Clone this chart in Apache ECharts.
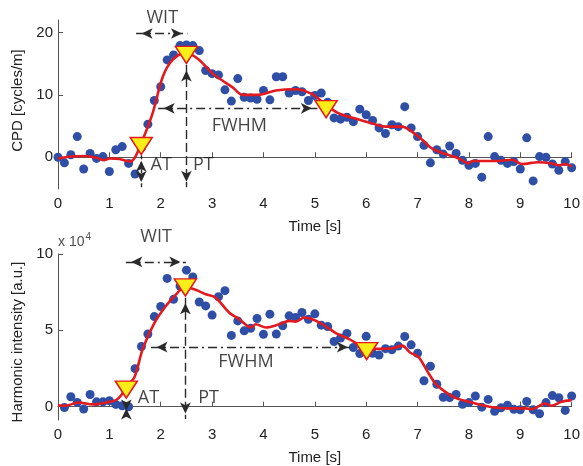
<!DOCTYPE html>
<html>
<head>
<meta charset="utf-8">
<script src="https://cdn.jsdelivr.net/npm/echarts@6/dist/echarts.min.js"></script>
<style>html,body{margin:0;padding:0;background:#fff}#c{width:583px;height:466px}</style>
</head>
<body>
<div id="c"></div>
<script>
// ---------- data ----------
const xTicks = [0,1,2,3,4,5,6,7,8,9,10];
const cpdTicks = [0,10,20];
const harmTicks = [0,5,10];

const cpdTime = [0,0.125,0.25,0.375,0.5,0.625,0.75,0.875,1,1.125,1.25,1.375,1.5,1.625,1.75,1.875,2,2.125,2.25,2.375,2.5,2.625,2.75,2.875,3,3.125,3.25,3.375,3.5,3.625,3.75,3.875,4,4.125,4.25,4.375,4.5,4.625,4.75,4.875,5,5.125,5.25,5.375,5.5,5.625,5.75,5.875,6,6.125,6.25,6.375,6.5,6.625,6.75,6.875,7,7.125,7.25,7.375,7.5,7.625,7.75,7.875,8,8.125,8.25,8.375,8.5,8.625,8.75,8.875,9,9.125,9.25,9.375,9.5,9.625,9.75,9.875,10];
const cpdValue = [0,-0.9,0.4,3.3,-1.9,0.6,-0.2,0.1,-2.3,1.2,1.7,-1.0,-2.7,1.5,5.3,9.1,11.3,15.6,16.4,17.9,18.0,17.9,17.1,13.9,13.4,13.2,10.8,9.0,12.6,9.6,9.5,9.3,10.7,9.2,12.9,12.9,10.3,10.7,10.5,9.1,9.9,10.3,8.8,6.3,6.1,6.4,5.7,7.7,6.8,5.9,4.7,3.8,5.2,4.9,8.1,4.7,3.3,1.9,-0.9,1.2,0.5,1.8,0.6,-0.5,-1.3,-1.0,-3.2,3.3,0.1,-0.5,-1.0,-0.7,-1.9,3.1,-3.8,0.1,0.0,-1.1,-2.1,-0.7,-1.7];

const cpdFitTime = [0,0.25,0.5,0.75,0.9,1.0,1.2,1.4,1.5,1.62,1.84,2.04,2.23,2.49,2.75,3.01,3.2,3.4,3.59,3.9,4.24,4.63,4.95,5.21,5.47,5.79,6.12,6.38,6.7,6.89,7.09,7.28,7.54,7.8,8.0,8.06,8.32,8.58,8.84,9.03,9.35,9.61,9.74,9.87,10];
const cpdFitValue = [-0.2,0.1,0.2,-0.1,-0.5,-0.2,-0.3,-0.7,0.0,2.2,7.0,12.9,15.6,16.8,15.6,13.4,12.3,11.2,10.0,10.0,10.7,10.9,10.1,8.4,7.0,6.2,5.4,4.9,4.9,4.1,2.8,1.4,0.5,-0.2,-1.0,-0.6,-0.6,-0.6,-0.4,-1.1,-0.8,-1.0,-1.3,-1.1,-1.5];

const cpdMarkerTime = [1.62,2.5,5.22];
const cpdMarkerValue = [1.8,16.4,7.7];

const harmTime = [0.125,0.25,0.375,0.5,0.625,0.75,0.875,1,1.125,1.25,1.375,1.5,1.625,1.75,1.875,2,2.125,2.25,2.375,2.5,2.625,2.75,2.875,3,3.125,3.25,3.375,3.5,3.625,3.75,3.875,4,4.125,4.25,4.375,4.5,4.625,4.75,4.875,5,5.125,5.25,5.375,5.5,5.625,5.75,5.875,6,6.125,6.25,6.375,6.5,6.625,6.75,6.875,7,7.125,7.25,7.375,7.5,7.625,7.75,7.875,8,8.125,8.25,8.375,8.5,8.625,8.75,8.875,9,9.125,9.25,9.375,9.5,9.625,9.75,9.875,10];
const harmValue = [-0.05,0.65,0.28,-0.15,0.8,0.32,0.32,0.39,0.15,0.06,0.0,2.49,3.94,4.76,5.9,6.56,8.4,7.03,7.9,8.94,8.5,6.86,6.6,6.0,7.2,7.6,4.67,5.62,4.97,5.13,5.78,4.74,6.06,4.76,5.3,5.95,5.84,6.17,5.73,6.08,5.34,5.25,4.27,4.5,4.8,3.88,3.48,4.61,3.5,3.38,3.8,3.73,3.97,4.6,4.05,3.5,1.7,2.65,1.47,0.62,0.6,0.8,0.16,0.27,0.7,-0.03,0.48,-0.3,-0.07,0.1,-0.17,-0.2,0.34,-0.2,-0.46,0.27,0.73,0.59,-0.24,0.7];

const harmFitTime = [0,0.14,0.4,0.68,0.94,1.13,1.23,1.33,1.49,1.65,1.88,2.1,2.3,2.47,2.69,2.88,3.07,3.33,3.53,3.76,3.85,4.05,4.31,4.5,4.62,4.8,4.95,5.15,5.41,5.67,6.0,6.25,6.51,6.7,6.86,7.02,7.18,7.35,7.54,7.74,8.0,8.26,8.51,8.84,9.1,9.22,9.48,9.61,9.8,10];
const harmFitValue = [0.1,0.06,0.28,0.15,0.28,0.43,0.75,1.3,1.95,3.79,5.5,6.6,7.36,7.86,7.64,7.36,7.14,6.17,5.73,5.19,5.4,5.19,5.4,5.62,5.56,5.84,5.73,5.4,4.82,4.43,3.83,3.79,3.83,4.0,3.53,3.25,2.38,1.51,0.97,0.58,0.32,0.1,-0.05,-0.11,-0.11,-0.16,0.21,0.06,0.32,0.43];

const harmMarkerTime = [1.33,2.48,6.01];
const harmMarkerValue = [1.12,7.81,3.64];

// annotation texts and their anchor points (data coordinates)
const cpdLabelText = ['WIT','FWHM','AT','PT'];
const cpdLabelTime = [2.03,3.53,2.01,2.83];
const cpdLabelValue = [22.4,5.0,-1.25,-1.25];
const harmLabelText = ['WIT','FWHM','AT','PT'];
const harmLabelTime = [1.91,3.66,1.76,2.93];
const harmLabelValue = [11.1,2.92,0.58,0.58];

// arrows: [t1, v1, t2, v2]
const cpdArrowWIT = [1.52,19.84,2.52,19.84];
const cpdArrowAT = [1.62,0.3,1.62,-4.85];
const cpdArrowPT = [2.5,14.8,2.5,-4.8];
const cpdArrowFWHM = [1.95,7.84,5.05,7.84];
const harmArrowWIT = [1.32,9.48,2.49,9.48];
const harmArrowAT = [1.33,0.25,1.33,-0.6];
const harmArrowPT = [2.48,7.14,2.48,-0.8];
const harmArrowFWHM = [1.81,3.9,5.75,3.9];

// ---------- chart ----------
const zip = (a,b) => a.map((x,i)=>[x,b[i]]);
const BLUE = '#2f4fa6', RED = '#e2191e', AX = '#555', TXT = '#222';
const tickFont = {fontFamily:'Liberation Sans', fontSize:15, color:TXT};
const annFont = 'Open Sans';

function xAxis(gi){
  return {type:'value', gridIndex:gi, min:0, max:10, interval:1,
    name:'Time [s]', nameLocation:'middle', nameGap:30,
    nameTextStyle:{fontFamily:'Liberation Sans', fontSize:15, color:TXT},
    axisLine:{lineStyle:{color:AX, width:1}},
    axisTick:{inside:true, length:5, lineStyle:{color:AX}},
    axisLabel:Object.assign({margin:7}, tickFont),
    splitLine:{show:false}};
}
function yAxis(gi,min,max,ticks,name,pad){
  return {type:'value', gridIndex:gi, min:min, max:max,
    name:name, nameLocation:'middle', nameGap:31,
    nameTextStyle:{fontFamily:'Liberation Sans', fontSize:15, color:TXT, padding:pad},
    axisLine:{show:true, lineStyle:{color:AX, width:1}},
    axisTick:{show:true, inside:true, length:5, lineStyle:{color:AX}, customValues:ticks},
    axisLabel:Object.assign({margin:5, customValues:ticks}, tickFont),
    splitLine:{show:false}};
}
function arrow(a, type){
  return [{coord:[a[0],a[1]], lineStyle:{type:type}}, {coord:[a[2],a[3]]}];
}
const DASHDOT = [9,4,2,4], DASH = [9,4], SHORTDASH=[4,3];

function arrowSeries(gi, arrows){
  return {type:'line', xAxisIndex:gi, yAxisIndex:gi, data:[], silent:true, z:6,
    markLine:{silent:true, symbol:['arrow','arrow'], symbolSize:[8,11],
      symbolOffset:[[0,5.5],[0,5.5]], animation:false,
      lineStyle:{color:'#2a2a2a', width:1.4, opacity:1},
      label:{show:false}, emphasis:{disabled:true},
      data: arrows.map(a=>{const d=arrow(a[0],a[1]); d[0].lineStyle={type:a[1], color:'#2a2a2a', width:1.4}; return d;})}};
}
function labelSeries(gi, texts, ts, vs){
  const d = texts.map((t,i)=>({name:t, value:[ts[i],vs[i]]}));
  return {type:'scatter', xAxisIndex:gi, yAxisIndex:gi, symbolSize:0, clip:false, silent:true, z:7,
    data:d, label:{show:true, position:'inside', formatter:p=>p.name, fontFamily:annFont, fontSize:18, color:'#151515'}};
}

const option = {
  animation:false,
  grid:[
    {left:58, top:20, width:515, height:169},
    {left:58, top:254, width:515, height:167.5}
  ],
  xAxis:[xAxis(0), xAxis(1)],
  yAxis:[yAxis(0,-5.1,22,cpdTicks,'CPD [cycles/m]',[0,0,0,8]), yAxis(1,-0.87,10,harmTicks,'Harmonic intensity [a.u.]',[0,10,0,0])],
  series:[
    {type:'scatter', xAxisIndex:0, yAxisIndex:0, data:zip(cpdTime,cpdValue), symbolSize:9, itemStyle:{color:BLUE, opacity:1}, z:2},
    {type:'line', xAxisIndex:0, yAxisIndex:0, data:zip(cpdFitTime,cpdFitValue), smooth:0.3, showSymbol:false, symbol:'none', lineStyle:{color:RED, width:2.6}, z:3},
    arrowSeries(0, [[cpdArrowWIT,DASHDOT],[cpdArrowAT,SHORTDASH],[cpdArrowPT,DASH],[cpdArrowFWHM,DASHDOT]]),
    {type:'scatter', xAxisIndex:0, yAxisIndex:0, data:zip(cpdMarkerTime,cpdMarkerValue), symbol:'triangle', symbolRotate:180, symbolSize:[22,17], itemStyle:{color:'#f9ee17', borderColor:RED, borderWidth:1.5, opacity:1}, z:8},
    labelSeries(0, cpdLabelText, cpdLabelTime, cpdLabelValue),

    {type:'scatter', xAxisIndex:1, yAxisIndex:1, data:zip(harmTime,harmValue), symbolSize:9, itemStyle:{color:BLUE, opacity:1}, z:2},
    {type:'line', xAxisIndex:1, yAxisIndex:1, data:zip(harmFitTime,harmFitValue), smooth:0.3, showSymbol:false, symbol:'none', lineStyle:{color:RED, width:2.6}, z:3},
    arrowSeries(1, [[harmArrowWIT,DASHDOT],[harmArrowAT,SHORTDASH],[harmArrowPT,DASH],[harmArrowFWHM,DASHDOT]]),
    {type:'scatter', xAxisIndex:1, yAxisIndex:1, data:zip(harmMarkerTime,harmMarkerValue), symbol:'triangle', symbolRotate:180, symbolSize:[22,17], itemStyle:{color:'#f9ee17', borderColor:RED, borderWidth:1.5, opacity:1}, z:8},
    labelSeries(1, harmLabelText, harmLabelTime, harmLabelValue),
    {type:'scatter', xAxisIndex:1, yAxisIndex:1, symbolSize:0, clip:false, silent:true, z:7,
     data:[{name:'x 10', value:[0,10.75]}],
     label:{show:true, position:'inside', align:'left', formatter:'{a|x 10}{b|4}',
       rich:{a:{fontFamily:'Liberation Sans', fontSize:14, color:TXT},
             b:{fontFamily:'Liberation Sans', fontSize:10, color:TXT, verticalAlign:'top', padding:[0,0,10,1]}}}}
  ]
};
const chart = echarts.init(document.getElementById('c'), null, {renderer:'canvas'});
chart.setOption(option);
</script>
</body>
</html>
